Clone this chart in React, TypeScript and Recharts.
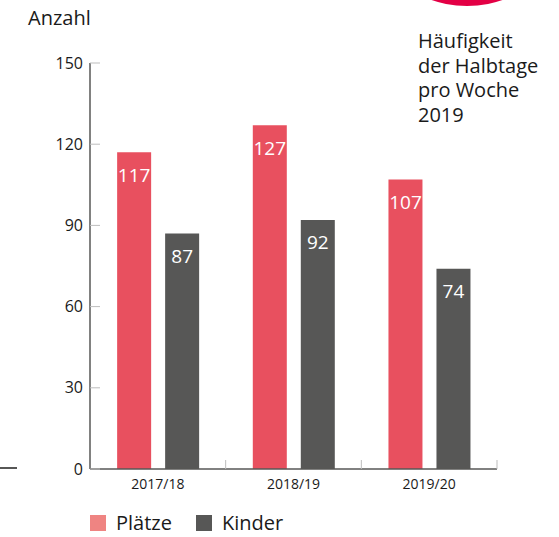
import { BarChart, Bar, XAxis, YAxis, LabelList } from "recharts";

const years = ["2017/18", "2018/19", "2019/20"];
const plaetze = [117, 127, 107];
const kinder = [87, 92, 74];
const yTicks = [0, 30, 60, 90, 120, 150];
const noteLines = ["Häufigkeit", "der Halbtage", "pro Woche", "2019"];

const data = years.map((year, i) => ({
  year,
  Plätze: plaetze[i],
  Kinder: kinder[i],
}));

const FONT = "'Open Sans', sans-serif";
const RED = "#e8505f";
const GREY = "#575756";

const YTick = (props: any) => {
  const { x, y, payload } = props;
  return (
    <g>
      <line x1={x + 7} x2={x + 17} y1={y} y2={y} stroke="#bdbdbd" strokeWidth={1} />
      <text x={x} y={y} dy="0.35em" textAnchor="end" fill="#1a1a1a" fontSize={16} fontFamily={FONT}>
        {payload.value}
      </text>
    </g>
  );
};

const XTick = (props: any) => {
  const { x, y, payload } = props;
  const half = payload.offset || 0;
  return (
    <g>
      <line x1={x + half} x2={x + half} y1={y - 10} y2={y - 19} stroke="#bdbdbd" strokeWidth={1} />
      <text x={x} y={y} dy="0.71em" textAnchor="middle" fill="#1a1a1a" fontSize={14} fontFamily={FONT}>
        {payload.value}
      </text>
    </g>
  );
};

const legendItems = [
  { name: "Plätze", color: "#ef8482" },
  { name: "Kinder", color: GREY },
];

export default function App() {
  return (
    <div style={{ position: "absolute", left: 0, top: 0, width: 559, height: 537, background: "#fff", overflow: "hidden", fontFamily: FONT }}>
      <div style={{ position: "absolute", left: 467 - 108, top: -102 - 108, width: 216, height: 216, borderRadius: "50%", background: "#e30045" }} />
      <div style={{ position: "absolute", left: 0, top: 467, width: 17, height: 2, background: GREY }} />
      <div style={{ position: "absolute", left: 28, top: 4, fontSize: 20, lineHeight: "28px", color: "#1a1a1a" }}>Anzahl</div>
      <div style={{ position: "absolute", left: 418, top: 29, fontSize: 20, lineHeight: "24.5px", color: "#1a1a1a" }}>
        {noteLines.map((l) => (
          <div key={l}>{l}</div>
        ))}
      </div>
      <BarChart
        width={559}
        height={537}
        data={data}
        margin={{ top: 63, right: 62, bottom: 38, left: 0 }}
        barCategoryGap="20%"
        barGap={14}
      >
        <YAxis
          width={90}
          domain={[0, 150]}
          ticks={yTicks}
          interval={0}
          tickLine={false}
          tickSize={0}
          tickMargin={7}
          axisLine={{ stroke: GREY, strokeWidth: 1.5 }}
          tick={<YTick />}
        />
        <XAxis
          dataKey="year"
          height={30}
          tickLine={false}
          tickSize={0}
          tickMargin={10}
          axisLine={{ stroke: GREY, strokeWidth: 1.5 }}
          tick={<XTick />}
        />
        <Bar dataKey="Plätze" fill={RED} isAnimationActive={false}>
          <LabelList dataKey="Plätze" position="insideTop" offset={16} fill="#fff" fontSize={19} fontFamily={FONT} />
        </Bar>
        <Bar dataKey="Kinder" fill={GREY} isAnimationActive={false}>
          <LabelList dataKey="Kinder" position="insideTop" offset={16} fill="#fff" fontSize={19} fontFamily={FONT} />
        </Bar>
      </BarChart>
      <div style={{ position: "absolute", left: 90, top: 511, display: "flex", alignItems: "center", fontSize: 20, lineHeight: "24px", color: "#1a1a1a" }}>
        {legendItems.map((it) => (
          <div key={it.name} style={{ display: "flex", alignItems: "center", marginRight: 24 }}>
            <span style={{ display: "inline-block", width: 16, height: 16, background: it.color, marginRight: 10 }} />
            <span>{it.name}</span>
          </div>
        ))}
      </div>
    </div>
  );
}
